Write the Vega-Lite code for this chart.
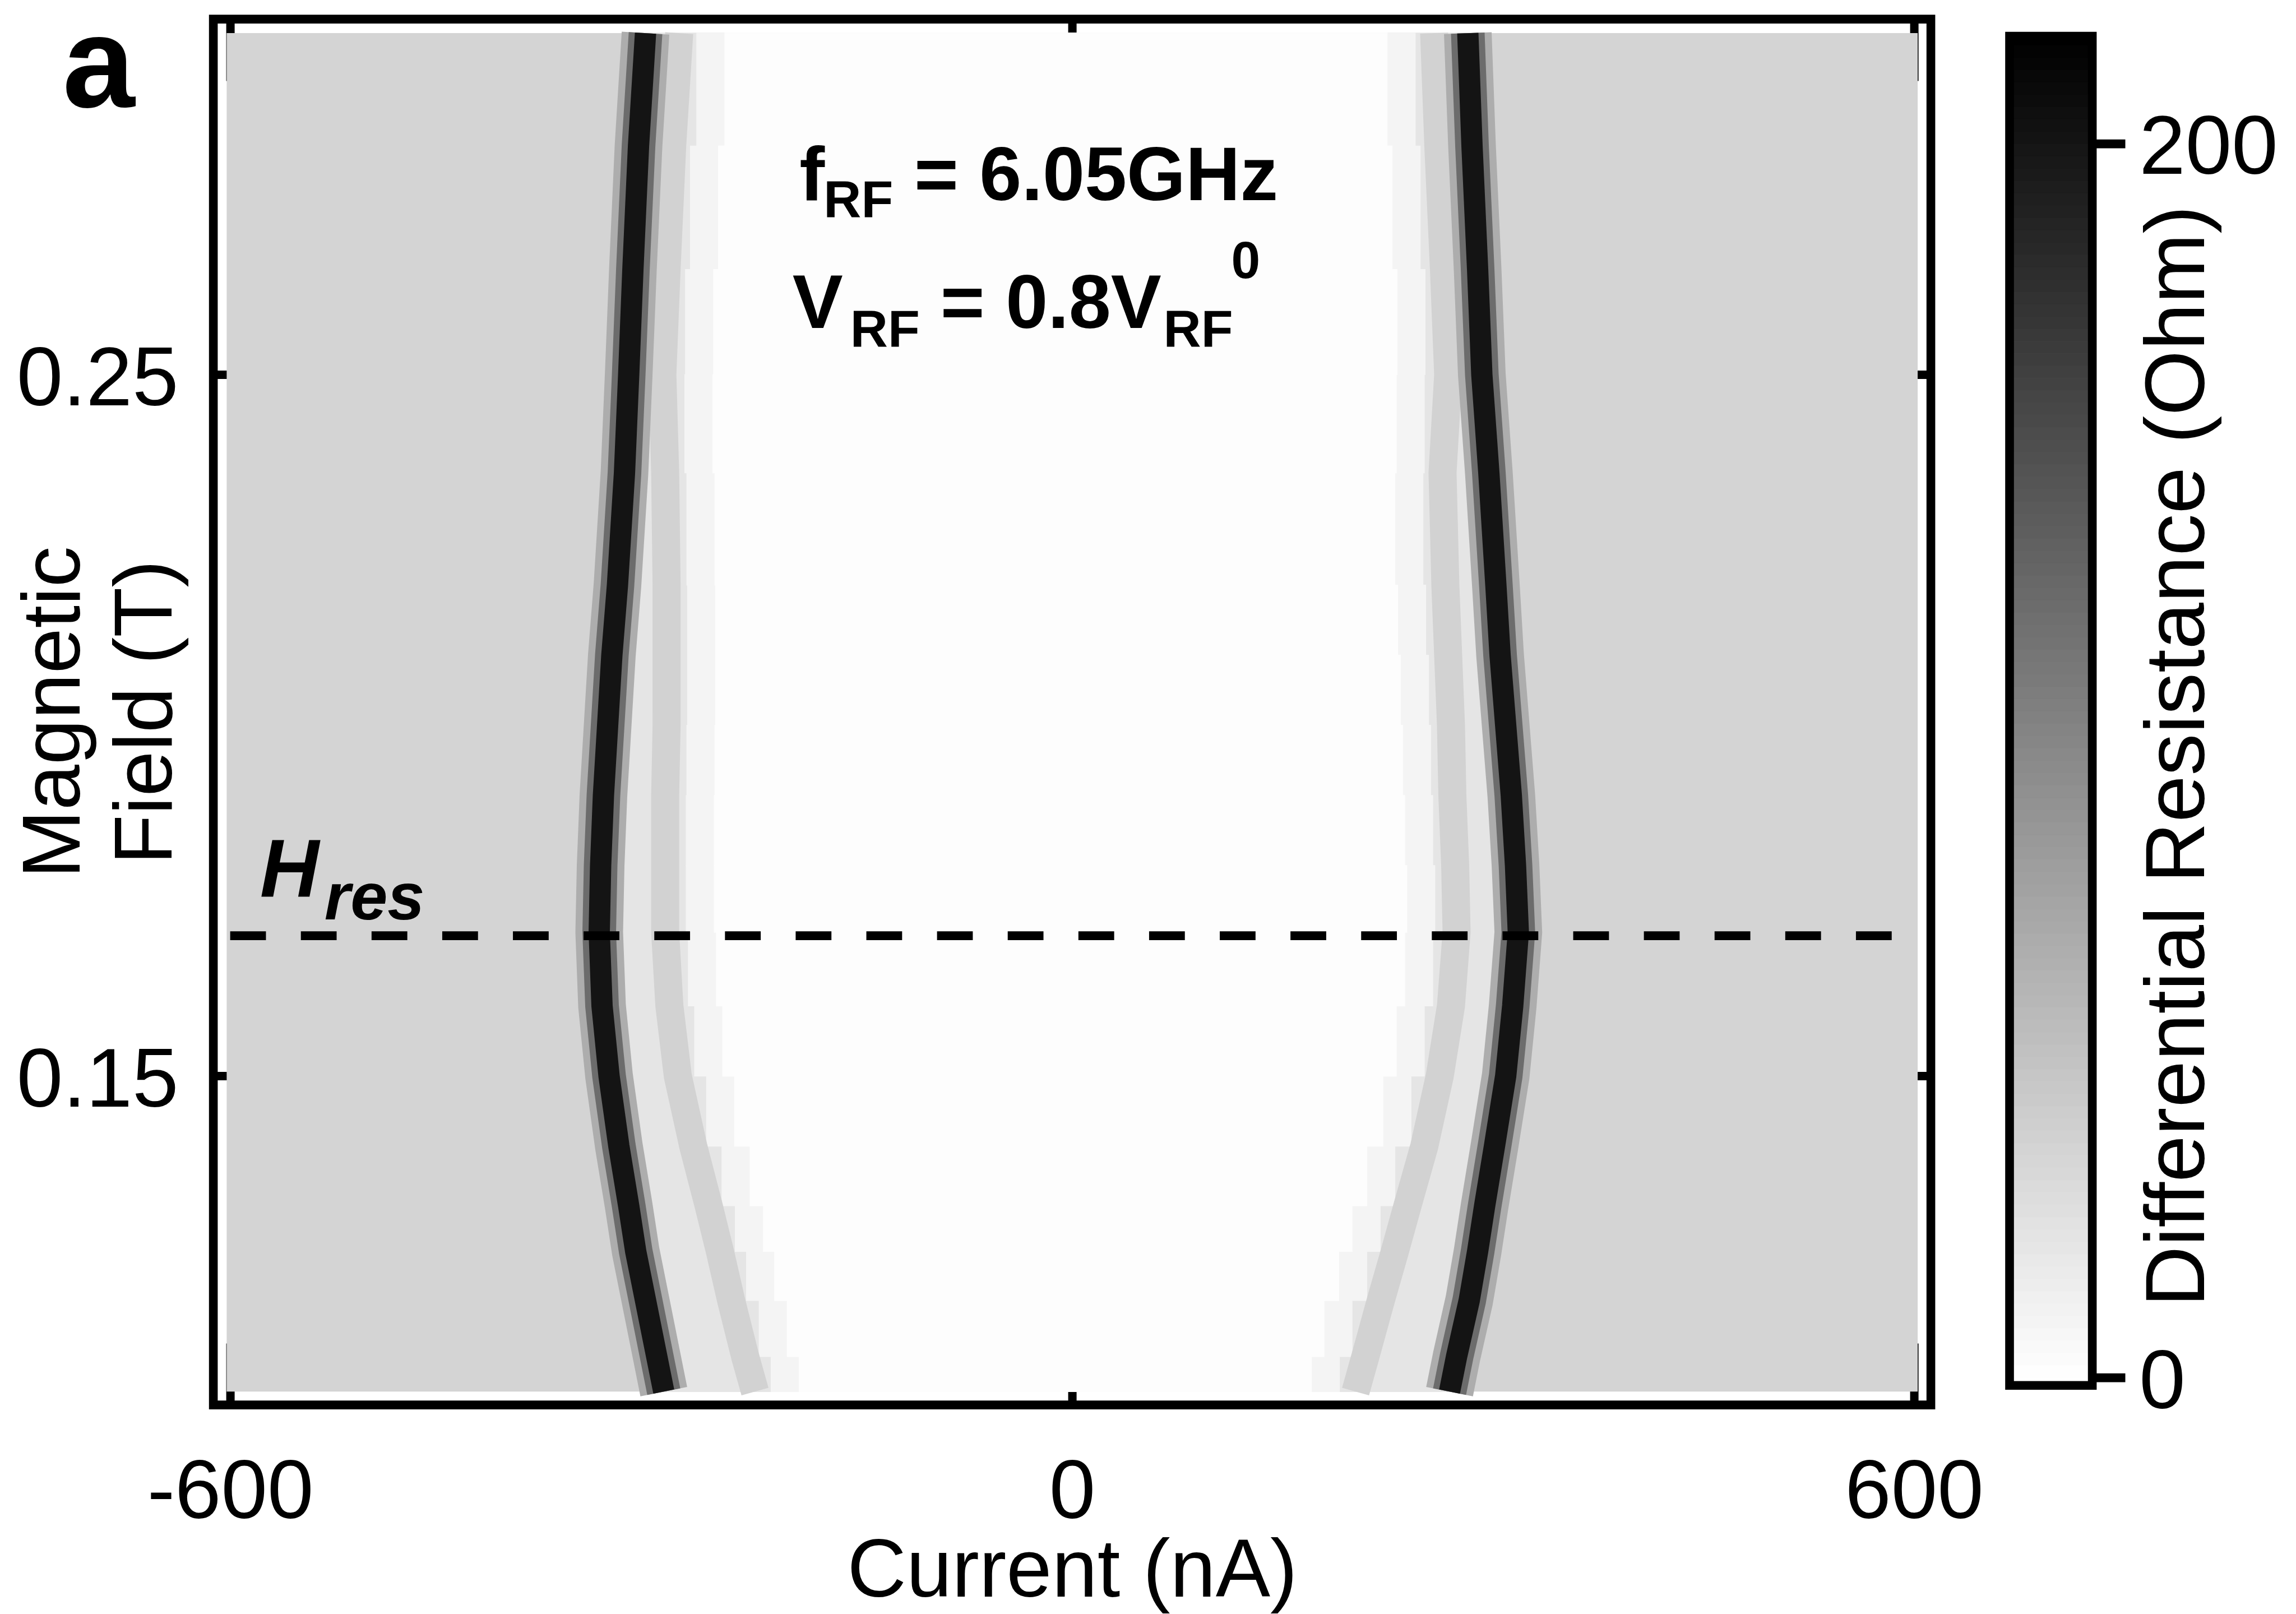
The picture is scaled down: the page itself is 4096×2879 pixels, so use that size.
{
  "$schema": "https://vega.github.io/schema/vega-lite/v6.json",
  "autosize": {"type": "none"},
  "padding": {"left": 380.6, "top": 34.1, "right": 3715.4, "bottom": 2844.9},
  "background": "white",
  "spacing": 140.4,
  "bounds": "flush",
  "config": {
    "font": "Liberation Sans",
    "legend": {"disable": true},
    "axis": {"zindex": 1, "grid": false, "domain": false, "labelFont": "Liberation Sans", "titleFont": "Liberation Sans", "labelColor": "black", "titleColor": "black", "tickColor": "black", "labelFlush": false, "labelOverlap": false, "labelLimit": 2000, "titleLimit": 4000, "titleFontWeight": "normal"}
  },
  "datasets": {
    "bands": [
      {"B1":0.105,"B2":0.110,"lo1":-293.5,"hi1":271.5,"lo2":-214.5,"hi2":190.5,"lo3":-194.5,"hi3":170.5},
      {"B1":0.110,"B2":0.118,"lo1":-300,"hi1":278.5,"lo2":-223,"hi2":199.5,"lo3":-203,"hi3":179.5},
      {"B1":0.118,"B2":0.125,"lo1":-307.5,"hi1":286,"lo2":-232,"hi2":210,"lo3":-212,"hi3":190},
      {"B1":0.125,"B2":0.1315,"lo1":-313.5,"hi1":291.5,"lo2":-240,"hi2":219.5,"lo3":-220,"hi3":199.5},
      {"B1":0.1315,"B2":0.140,"lo1":-319.5,"hi1":297.5,"lo2":-249.5,"hi2":230,"lo3":-229.5,"hi3":210},
      {"B1":0.140,"B2":0.150,"lo1":-326.5,"hi1":305,"lo2":-260.5,"hi2":241.5,"lo3":-240.5,"hi3":221.5},
      {"B1":0.150,"B2":0.160,"lo1":-332.5,"hi1":311.5,"lo2":-269,"hi2":251,"lo3":-249,"hi3":231},
      {"B1":0.160,"B2":0.1705,"lo1":-336,"hi1":316,"lo2":-273.5,"hi2":257,"lo3":-253.5,"hi3":237},
      {"B1":0.1705,"B2":0.180,"lo1":-336.5,"hi1":317,"lo2":-275,"hi2":258.5,"lo3":-255,"hi3":238.5},
      {"B1":0.180,"B2":0.190,"lo1":-335,"hi1":314.5,"lo2":-275,"hi2":257,"lo3":-255,"hi3":237},
      {"B1":0.190,"B2":0.200,"lo1":-332.5,"hi1":311,"lo2":-274.5,"hi2":255.5,"lo3":-254.5,"hi3":235.5},
      {"B1":0.200,"B2":0.210,"lo1":-329.5,"hi1":307,"lo2":-274,"hi2":254,"lo3":-254,"hi3":234},
      {"B1":0.210,"B2":0.220,"lo1":-326,"hi1":303.5,"lo2":-274,"hi2":252,"lo3":-254,"hi3":232},
      {"B1":0.220,"B2":0.236,"lo1":-321.5,"hi1":299.5,"lo2":-274.5,"hi2":250,"lo3":-254.5,"hi3":230},
      {"B1":0.236,"B2":0.250,"lo1":-317.5,"hi1":294.5,"lo2":-276,"hi2":251,"lo3":-256,"hi3":231},
      {"B1":0.250,"B2":0.265,"lo1":-314.5,"hi1":290.5,"lo2":-275.5,"hi2":251.5,"lo3":-255.5,"hi3":231.5},
      {"B1":0.265,"B2":0.2826,"lo1":-311,"hi1":287,"lo2":-272,"hi2":248,"lo3":-252,"hi3":228},
      {"B1":0.2826,"B2":0.2987,"lo1":-306.5,"hi1":283.5,"lo2":-267.5,"hi2":244.5,"lo3":-247.5,"hi3":224.5}
    ],
    "faint": [
      {"s":"L","B":0.105,"I":-226},{"s":"L","B":0.110,"I":-233},{"s":"L","B":0.118,"I":-243},{"s":"L","B":0.125,"I":-251},
      {"s":"L","B":0.1315,"I":-259},{"s":"L","B":0.140,"I":-270},{"s":"L","B":0.150,"I":-281},{"s":"L","B":0.160,"I":-287},
      {"s":"L","B":0.1705,"I":-290},{"s":"L","B":0.180,"I":-290},{"s":"L","B":0.190,"I":-290},{"s":"L","B":0.200,"I":-289},
      {"s":"L","B":0.210,"I":-289},{"s":"L","B":0.220,"I":-289},{"s":"L","B":0.236,"I":-290},{"s":"L","B":0.250,"I":-292},
      {"s":"L","B":0.265,"I":-289},{"s":"L","B":0.2826,"I":-285},{"s":"L","B":0.2987,"I":-280},
      {"s":"R","B":0.105,"I":202},{"s":"R","B":0.110,"I":209},{"s":"R","B":0.118,"I":220},{"s":"R","B":0.125,"I":230},
      {"s":"R","B":0.1315,"I":239},{"s":"R","B":0.140,"I":251},{"s":"R","B":0.150,"I":262},{"s":"R","B":0.160,"I":270},
      {"s":"R","B":0.1705,"I":274},{"s":"R","B":0.180,"I":273},{"s":"R","B":0.190,"I":271},{"s":"R","B":0.200,"I":270},
      {"s":"R","B":0.210,"I":268},{"s":"R","B":0.220,"I":266},{"s":"R","B":0.236,"I":264},{"s":"R","B":0.250,"I":268},
      {"s":"R","B":0.265,"I":265},{"s":"R","B":0.2826,"I":261},{"s":"R","B":0.2987,"I":258}
    ],
    "dark": [
      {"s":"L","B":0.105,"I":-291},{"s":"L","B":0.110,"I":-296},{"s":"L","B":0.118,"I":-304},{"s":"L","B":0.125,"I":-311},
      {"s":"L","B":0.1315,"I":-316},{"s":"L","B":0.140,"I":-323},{"s":"L","B":0.150,"I":-330},{"s":"L","B":0.160,"I":-335},
      {"s":"L","B":0.1705,"I":-337},{"s":"L","B":0.180,"I":-336},{"s":"L","B":0.190,"I":-334},{"s":"L","B":0.200,"I":-331},
      {"s":"L","B":0.210,"I":-328},{"s":"L","B":0.220,"I":-324},{"s":"L","B":0.236,"I":-319},{"s":"L","B":0.250,"I":-316},
      {"s":"L","B":0.265,"I":-313},{"s":"L","B":0.2826,"I":-309},{"s":"L","B":0.2987,"I":-304},
      {"s":"R","B":0.105,"I":269},{"s":"R","B":0.110,"I":274},{"s":"R","B":0.118,"I":283},{"s":"R","B":0.125,"I":289},
      {"s":"R","B":0.1315,"I":294},{"s":"R","B":0.140,"I":301},{"s":"R","B":0.150,"I":309},{"s":"R","B":0.160,"I":314},
      {"s":"R","B":0.1705,"I":318},{"s":"R","B":0.180,"I":316},{"s":"R","B":0.190,"I":313},{"s":"R","B":0.200,"I":309},
      {"s":"R","B":0.210,"I":305},{"s":"R","B":0.220,"I":302},{"s":"R","B":0.236,"I":297},{"s":"R","B":0.250,"I":292},
      {"s":"R","B":0.265,"I":289},{"s":"R","B":0.2826,"I":285},{"s":"R","B":0.2987,"I":282}
    ]
  },
  "hconcat": [
    {
      "width": 3064,
      "height": 2472,
      "view": {"stroke": "black", "strokeWidth": 15.6},
      "resolve": {"axis": {"x": "independent", "y": "independent"}},
      "layer": [
        {
          "data": {"values": [{"I1": -602.5, "I2": 602.6, "B1": 0.105, "B2": 0.2987, "r": 37}]},
          "mark": "rect",
          "encoding": {
            "x": {"field": "I1", "type": "quantitative", "scale": {"domain": [-612, 612], "nice": false, "zero": false},
              "axis": {"orient": "top", "values": [-600, 0, 600], "tickSize": -110, "tickWidth": 15, "labels": false, "title": null}},
            "x2": {"field": "I2"},
            "y": {"field": "B1", "type": "quantitative", "scale": {"domain": [0.1031, 0.3007], "nice": false, "zero": false},
              "axis": {"orient": "right", "values": [0.15, 0.25], "tickSize": -110, "tickWidth": 15, "labels": false, "title": null}},
            "y2": {"field": "B2"},
            "color": {"field": "r", "type": "quantitative", "scale": {"domain": [0, 217.4], "range": ["#ffffff", "#000000"], "interpolate": "rgb"}, "legend": null}
          }
        },
        {
          "layer": [
            {
              "data": {"name": "bands"},
              "mark": {"type": "rect", "strokeWidth": 1.5},
              "encoding": {
                "y": {"field": "B1", "type": "quantitative",
                  "axis": {"orient": "left", "values": [0.15, 0.25], "format": ".2f", "tickSize": -110, "tickWidth": 15, "labelFontSize": 148.4, "labelPadding": 172.6, "labelBaseline": "middle", "labelOffset": 9,
                    "title": ["Magnetic", "Field (T)"], "titleFontSize": 146, "titleAngle": 270, "titleAlign": "center", "titleBaseline": "alphabetic", "titleX": -238.9, "titleY": 1236, "titleLineHeight": 164}},
                "y2": {"field": "B2"},
                "x": {"field": "lo1", "type": "quantitative",
                  "axis": {"orient": "bottom", "values": [-600, 0, 600], "labelExpr": "'' + datum.value", "tickSize": -110, "tickWidth": 15, "labelFontSize": 148.4, "labelPadding": 311, "labelBaseline": "alphabetic", "labelAlign": "center",
                    "title": "Current (nA)", "titleFontSize": 146, "titleX": 1532, "titleY": 340.9, "titleAlign": "center", "titleBaseline": "alphabetic"}},
                "x2": {"field": "hi1"},
                "color": {"datum": 22, "type": "quantitative"},
                "stroke": {"datum": 22, "type": "quantitative", "scale": {"domain": [0, 217.4], "range": ["#ffffff", "#000000"], "interpolate": "rgb"}, "legend": null}
              }
            },
            {
              "data": {"name": "bands"},
              "mark": {"type": "rect", "strokeWidth": 1.5},
              "encoding": {
                "y": {"field": "B1", "type": "quantitative"},
                "y2": {"field": "B2"},
                "x": {"field": "lo2", "type": "quantitative"},
                "x2": {"field": "hi2"},
                "color": {"datum": 9, "type": "quantitative"},
                "stroke": {"datum": 9, "type": "quantitative"}
              }
            },
            {
              "data": {"name": "bands"},
              "mark": {"type": "rect", "strokeWidth": 1.5},
              "encoding": {
                "y": {"field": "B1", "type": "quantitative"},
                "y2": {"field": "B2"},
                "x": {"field": "lo3", "type": "quantitative"},
                "x2": {"field": "hi3"},
                "color": {"datum": 2, "type": "quantitative"},
                "stroke": {"datum": 2, "type": "quantitative"}
              }
            },
            {
              "data": {"name": "faint"},
              "mark": {"type": "line", "strokeWidth": 50},
              "encoding": {
                "x": {"field": "I", "type": "quantitative"},
                "y": {"field": "B", "type": "quantitative"},
                "detail": {"field": "s"},
                "order": {"field": "B"},
                "color": {"datum": 38, "type": "quantitative"}
              }
            },
            {
              "data": {"name": "dark"},
              "mark": {"type": "line", "strokeWidth": 85},
              "encoding": {
                "x": {"field": "I", "type": "quantitative"},
                "y": {"field": "B", "type": "quantitative"},
                "detail": {"field": "s"},
                "order": {"field": "B"},
                "color": {"datum": 70, "type": "quantitative"}
              }
            },
            {
              "data": {"name": "dark"},
              "mark": {"type": "line", "strokeWidth": 60},
              "encoding": {
                "x": {"field": "I", "type": "quantitative"},
                "y": {"field": "B", "type": "quantitative"},
                "detail": {"field": "s"},
                "order": {"field": "B"},
                "color": {"datum": 125, "type": "quantitative"}
              }
            },
            {
              "data": {"name": "dark"},
              "mark": {"type": "line", "strokeWidth": 38},
              "encoding": {
                "x": {"field": "I", "type": "quantitative"},
                "y": {"field": "B", "type": "quantitative"},
                "detail": {"field": "s"},
                "order": {"field": "B"},
                "color": {"datum": 200, "type": "quantitative"}
              }
            },
            {
              "data": {"values": [{"B": 0.170, "I1": -600, "I2": 600}]},
              "mark": {"type": "rule", "color": "black", "strokeWidth": 15.6, "strokeDash": [63.8, 62.3]},
              "encoding": {
                "x": {"field": "I1", "type": "quantitative"},
                "x2": {"field": "I2"},
                "y": {"field": "B", "type": "quantitative"}
              }
            },
            {
              "data": {"values": [{"t": "a", "I": -719.5, "B": 0.28818}]},
              "mark": {"type": "text", "align": "left", "baseline": "alphabetic", "font": "Liberation Sans", "fontWeight": "bold", "fontSize": 232, "color": "black"},
              "encoding": {
                "x": {"field": "I", "type": "quantitative"},
                "y": {"field": "B", "type": "quantitative"},
                "text": {"field": "t"}
              }
            },
            {
              "data": {"values": [
                {"t": "f", "I": -194.3, "B": 0.27490},
                {"t": "= 6.05GHz", "I": -112.5, "B": 0.27490},
                {"t": "V", "I": -199.3, "B": 0.25663},
                {"t": "= 0.8V", "I": -93.8, "B": 0.25663}
              ]},
              "mark": {"type": "text", "align": "left", "baseline": "alphabetic", "font": "Liberation Sans", "fontWeight": "bold", "fontSize": 135, "color": "black"},
              "encoding": {
                "x": {"field": "I", "type": "quantitative"},
                "y": {"field": "B", "type": "quantitative"},
                "text": {"field": "t"}
              }
            },
            {
              "data": {"values": [
                {"t": "RF", "I": -177.1, "B": 0.27252},
                {"t": "RF", "I": -158.1, "B": 0.25402},
                {"t": "RF", "I": 65.1, "B": 0.25402},
                {"t": "0", "I": 113.4, "B": 0.26380}
              ]},
              "mark": {"type": "text", "align": "left", "baseline": "alphabetic", "font": "Liberation Sans", "fontWeight": "bold", "fontSize": 93, "color": "black"},
              "encoding": {
                "x": {"field": "I", "type": "quantitative"},
                "y": {"field": "B", "type": "quantitative"},
                "text": {"field": "t"}
              }
            },
            {
              "data": {"values": [{"t": "H", "I": -578.8, "B": 0.17561}]},
              "mark": {"type": "text", "align": "left", "baseline": "alphabetic", "font": "Liberation Sans", "fontWeight": "bold", "fontStyle": "italic", "fontSize": 146, "color": "black"},
              "encoding": {
                "x": {"field": "I", "type": "quantitative"},
                "y": {"field": "B", "type": "quantitative"},
                "text": {"field": "t"}
              }
            },
            {
              "data": {"values": [{"t": "res", "I": -532.8, "B": 0.17234}]},
              "mark": {"type": "text", "align": "left", "baseline": "alphabetic", "font": "Liberation Sans", "fontWeight": "bold", "fontStyle": "italic", "fontSize": 119, "color": "black"},
              "encoding": {
                "x": {"field": "I", "type": "quantitative"},
                "y": {"field": "B", "type": "quantitative"},
                "text": {"field": "t"}
              }
            }
          ]
        }
      ]
    },
    {
      "width": 147.6,
      "height": 2472,
      "view": {"stroke": null},
      "layer": [
        {
          "data": {"values": [
            {"lo":-1.3,"hi":0,"v":0},{"lo":0,"hi":2,"v":1},{"lo":2,"hi":4,"v":3},{"lo":4,"hi":6,"v":5},{"lo":6,"hi":8,"v":7},{"lo":8,"hi":10,"v":9},
            {"lo":10,"hi":12,"v":11},{"lo":12,"hi":14,"v":13},{"lo":14,"hi":16,"v":15},{"lo":16,"hi":18,"v":17},{"lo":18,"hi":20,"v":19},
            {"lo":20,"hi":22,"v":21},{"lo":22,"hi":24,"v":23},{"lo":24,"hi":26,"v":25},{"lo":26,"hi":28,"v":27},{"lo":28,"hi":30,"v":29},
            {"lo":30,"hi":32,"v":31},{"lo":32,"hi":34,"v":33},{"lo":34,"hi":36,"v":35},{"lo":36,"hi":38,"v":37},{"lo":38,"hi":40,"v":39},
            {"lo":40,"hi":42,"v":41},{"lo":42,"hi":44,"v":43},{"lo":44,"hi":46,"v":45},{"lo":46,"hi":48,"v":47},{"lo":48,"hi":50,"v":49},
            {"lo":50,"hi":52,"v":51},{"lo":52,"hi":54,"v":53},{"lo":54,"hi":56,"v":55},{"lo":56,"hi":58,"v":57},{"lo":58,"hi":60,"v":59},
            {"lo":60,"hi":62,"v":61},{"lo":62,"hi":64,"v":63},{"lo":64,"hi":66,"v":65},{"lo":66,"hi":68,"v":67},{"lo":68,"hi":70,"v":69},
            {"lo":70,"hi":72,"v":71},{"lo":72,"hi":74,"v":73},{"lo":74,"hi":76,"v":75},{"lo":76,"hi":78,"v":77},{"lo":78,"hi":80,"v":79},
            {"lo":80,"hi":82,"v":81},{"lo":82,"hi":84,"v":83},{"lo":84,"hi":86,"v":85},{"lo":86,"hi":88,"v":87},{"lo":88,"hi":90,"v":89},
            {"lo":90,"hi":92,"v":91},{"lo":92,"hi":94,"v":93},{"lo":94,"hi":96,"v":95},{"lo":96,"hi":98,"v":97},{"lo":98,"hi":100,"v":99},
            {"lo":100,"hi":102,"v":101},{"lo":102,"hi":104,"v":103},{"lo":104,"hi":106,"v":105},{"lo":106,"hi":108,"v":107},{"lo":108,"hi":110,"v":109},
            {"lo":110,"hi":112,"v":111},{"lo":112,"hi":114,"v":113},{"lo":114,"hi":116,"v":115},{"lo":116,"hi":118,"v":117},{"lo":118,"hi":120,"v":119},
            {"lo":120,"hi":122,"v":121},{"lo":122,"hi":124,"v":123},{"lo":124,"hi":126,"v":125},{"lo":126,"hi":128,"v":127},{"lo":128,"hi":130,"v":129},
            {"lo":130,"hi":132,"v":131},{"lo":132,"hi":134,"v":133},{"lo":134,"hi":136,"v":135},{"lo":136,"hi":138,"v":137},{"lo":138,"hi":140,"v":139},
            {"lo":140,"hi":142,"v":141},{"lo":142,"hi":144,"v":143},{"lo":144,"hi":146,"v":145},{"lo":146,"hi":148,"v":147},{"lo":148,"hi":150,"v":149},
            {"lo":150,"hi":152,"v":151},{"lo":152,"hi":154,"v":153},{"lo":154,"hi":156,"v":155},{"lo":156,"hi":158,"v":157},{"lo":158,"hi":160,"v":159},
            {"lo":160,"hi":162,"v":161},{"lo":162,"hi":164,"v":163},{"lo":164,"hi":166,"v":165},{"lo":166,"hi":168,"v":167},{"lo":168,"hi":170,"v":169},
            {"lo":170,"hi":172,"v":171},{"lo":172,"hi":174,"v":173},{"lo":174,"hi":176,"v":175},{"lo":176,"hi":178,"v":177},{"lo":178,"hi":180,"v":179},
            {"lo":180,"hi":182,"v":181},{"lo":182,"hi":184,"v":183},{"lo":184,"hi":186,"v":185},{"lo":186,"hi":188,"v":187},{"lo":188,"hi":190,"v":189},
            {"lo":190,"hi":192,"v":191},{"lo":192,"hi":194,"v":193},{"lo":194,"hi":196,"v":195},{"lo":196,"hi":198,"v":197},{"lo":198,"hi":200,"v":199},
            {"lo":200,"hi":202,"v":201},{"lo":202,"hi":204,"v":203},{"lo":204,"hi":206,"v":205},{"lo":206,"hi":208,"v":207},{"lo":208,"hi":210,"v":209},
            {"lo":210,"hi":212,"v":211},{"lo":212,"hi":214,"v":213},{"lo":214,"hi":216,"v":215},{"lo":216,"hi":217.4,"v":217}
          ]},
          "mark": {"type": "rect", "strokeWidth": 1},
          "encoding": {
            "x": {"datum": 0, "type": "quantitative", "scale": {"domain": [0, 1]}, "axis": null},
            "x2": {"datum": 1},
            "y": {"field": "lo", "type": "quantitative", "scale": {"domain": [-4.46, 220.16], "nice": false, "zero": false},
              "axis": {"orient": "right", "values": [0, 200], "tickSize": 58.4, "tickWidth": 15.6, "labelFontSize": 148.4, "labelPadding": 24.8, "labelBaseline": "middle", "labelOffset": 9,
                "title": "Differential Resistance (Ohm)", "titleFontSize": 150, "titleAngle": 270, "titleAlign": "left", "titleBaseline": "alphabetic", "titleX": 199, "titleY": 2296.5}},
            "y2": {"field": "hi"},
            "color": {"field": "v", "type": "quantitative", "scale": {"domain": [0, 217.4], "range": ["#ffffff", "#000000"], "interpolate": "rgb"}, "legend": null},
            "stroke": {"field": "v", "type": "quantitative", "scale": {"domain": [0, 217.4], "range": ["#ffffff", "#000000"], "interpolate": "rgb"}, "legend": null}
          }
        },
        {
          "data": {"values": [{"lo": -1.3, "hi": 217.4}]},
          "mark": {"type": "rect", "filled": false, "stroke": "black", "strokeWidth": 15.6},
          "encoding": {
            "x": {"datum": 0, "type": "quantitative"},
            "x2": {"datum": 1},
            "y": {"field": "lo", "type": "quantitative"},
            "y2": {"field": "hi"}
          }
        }
      ]
    }
  ]
}
